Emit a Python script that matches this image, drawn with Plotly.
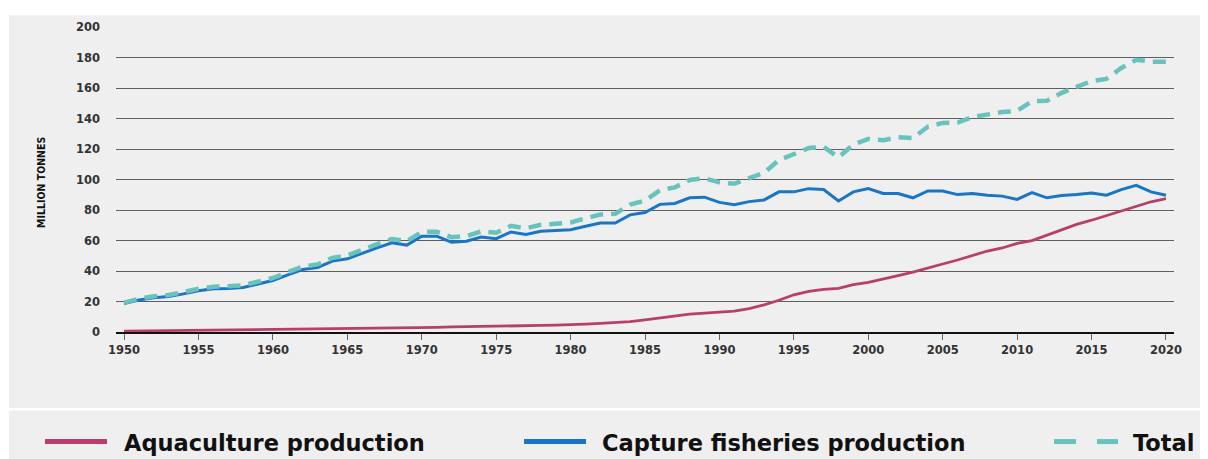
import plotly.graph_objects as go

years = list(range(1950, 2021))

capture = [18.7, 21.0, 22.5, 23.2, 25.0, 27.0, 28.3, 28.5, 29.2, 31.5,
           33.8, 37.5, 41.0, 42.3, 46.5, 48.0, 51.8, 55.2, 58.5, 57.0,
           62.8, 62.8, 58.9, 59.5, 62.3, 61.2, 65.6, 63.9, 66.0, 66.5,
           67.1, 69.3, 71.4, 71.4, 76.8, 78.3, 83.7, 84.3, 88.0, 88.4,
           85.0, 83.5, 85.5, 86.6, 91.9, 91.9, 94.0, 93.4, 85.9, 91.9,
           94.0, 90.8, 90.8, 88.0, 92.5, 92.5, 90.1, 90.8, 89.7, 89.1,
           86.9, 91.4, 88.0, 89.5, 90.1, 91.2, 89.7, 93.4, 96.2, 91.9,
           89.7]

aquaculture = [0.6, 0.7, 0.8, 0.9, 1.0, 1.2, 1.3, 1.4, 1.4, 1.5,
               1.6, 1.7, 1.8, 2.0, 2.1, 2.2, 2.3, 2.4, 2.5, 2.6,
               2.8, 3.0, 3.3, 3.4, 3.6, 3.9, 4.0, 4.1, 4.3, 4.5,
               4.7, 5.2, 5.6, 6.1, 6.8, 7.9, 9.2, 10.5, 11.7, 12.4,
               13.1, 13.7, 15.4, 17.8, 20.8, 24.4, 26.6, 27.9, 28.6, 31.0,
               32.6, 35.0, 36.9, 39.2, 42.1, 44.6, 47.2, 50.2, 53.1, 55.1,
               58.1, 59.9, 63.6, 67.3, 70.6, 73.3, 76.3, 79.7, 82.3, 85.4,
               87.5]

total = [19.3, 21.8, 23.5, 24.3, 26.2, 28.3, 29.6, 29.9, 30.6, 33.0,
         35.4, 39.2, 42.8, 44.3, 48.6, 50.2, 54.1, 57.6, 61.0, 59.6,
         65.6, 65.8, 62.2, 62.9, 65.9, 65.1, 69.6, 68.0, 70.3, 71.0,
         71.8, 74.5, 77.0, 77.5, 83.6, 86.2, 92.9, 94.8, 99.7, 100.8,
         98.1, 97.2, 100.9, 104.4, 112.7, 116.3, 120.6, 121.3, 114.5, 122.9,
         126.6, 125.8, 127.7, 127.2, 134.6, 137.1, 137.3, 141.0, 142.8, 144.2,
         145.0, 151.3, 151.6, 156.8, 160.7, 164.5, 166.0, 173.1, 178.5, 177.3,
         177.2]

x_ticks = list(range(1950, 2021, 5))
y_ticks = list(range(0, 201, 20))

series_names = ["Aquaculture production", "Capture fisheries production", "Total"]
col_aqua = "#b83e6d"
col_capt = "#1a76c4"
col_total = "#68c3bc"
bg = "#efefef"

OFF = 8  # page body margin offset
W, H = 1208 - OFF, 459 - OFF
L, R = 116 - OFF, 1174 - OFF   # plot area px (figure coords)
T, B = 23 - OFF, 332 - OFF


def px(x):
    """screen px -> paper x"""
    return (x - OFF - L) / (R - L)


def py(y):
    """screen px -> paper y"""
    return (B - (y - OFF)) / (B - T)


fig = go.Figure()
fig.add_trace(go.Scatter(x=years, y=aquaculture, mode="lines", name=series_names[0],
                         line=dict(color=col_aqua, width=2.8)))
fig.add_trace(go.Scatter(x=years, y=capture, mode="lines", name=series_names[1],
                         line=dict(color=col_capt, width=3)))
fig.add_trace(go.Scatter(x=years, y=total, mode="lines", name=series_names[2],
                         line=dict(color=col_total, width=4.5, dash="13px,8px")))

shapes = [
    dict(type="rect", xref="paper", yref="paper", x0=px(9), x1=px(1215), y0=py(409), y1=py(11),
         fillcolor=bg, line=dict(width=0), layer="below"),
    dict(type="rect", xref="paper", yref="paper", x0=px(9), x1=px(1215), y0=py(465), y1=py(411.5),
         fillcolor=bg, line=dict(width=0), layer="below"),
    dict(type="line", xref="paper", yref="paper", x0=px(45), x1=px(107), y0=py(443), y1=py(443),
         line=dict(color=col_aqua, width=5)),
    dict(type="line", xref="paper", yref="paper", x0=px(524), x1=px(586), y0=py(443), y1=py(443),
         line=dict(color=col_capt, width=5)),
    dict(type="line", xref="paper", yref="paper", x0=px(1054), x1=px(1076), y0=py(443), y1=py(443),
         line=dict(color=col_total, width=5)),
    dict(type="line", xref="paper", yref="paper", x0=px(1097), x1=px(1118), y0=py(443), y1=py(443),
         line=dict(color=col_total, width=5)),
]

legend_font = dict(family="DejaVu Sans", size=22.5, color="#111111", weight="bold")
annotations = [
    dict(text=series_names[0], xref="paper", yref="paper", x=px(122), y=py(444),
         xanchor="left", yanchor="middle", showarrow=False, font=legend_font),
    dict(text=series_names[1], xref="paper", yref="paper", x=px(600), y=py(444),
         xanchor="left", yanchor="middle", showarrow=False, font=legend_font),
    dict(text=series_names[2], xref="paper", yref="paper", x=px(1131), y=py(444),
         xanchor="left", yanchor="middle", showarrow=False, font=legend_font),
    dict(text="MILLION TONNES", xref="paper", yref="paper", x=px(41), y=py(181),
         xanchor="center", yanchor="middle", textangle=-90, showarrow=False,
         font=dict(family="DejaVu Sans Condensed, Liberation Sans Narrow", size=10.5,
                   color="#111111", weight="bold")),
]

tick_font = dict(family="DejaVu Sans", size=11.5, color="#333333", weight="bold")

fig.update_layout(
    width=W, height=H,
    margin=dict(l=L, r=W - R, t=T, b=H - B, pad=0),
    paper_bgcolor="white",
    plot_bgcolor="rgba(0,0,0,0)",
    showlegend=False,
    shapes=shapes,
    annotations=annotations,
    xaxis=dict(range=[1949.46, 2020.54], tickvals=x_ticks, ticktext=[str(v) for v in x_ticks],
               showgrid=False, zeroline=False, showline=True, linecolor="#111111", linewidth=2,
               ticks="outside", ticklen=6, tickwidth=1, tickcolor="#666666",
               tickfont=tick_font, fixedrange=True),
    yaxis=dict(range=[0, 200], tickvals=y_ticks, ticktext=[str(v) for v in y_ticks],
               showgrid=True, gridcolor="#5f5f5f", gridwidth=1, zeroline=False,
               showline=False, ticks="", ticklabelstandoff=15,
               tickfont=tick_font, fixedrange=True),
)

fig.write_html("out.html")
